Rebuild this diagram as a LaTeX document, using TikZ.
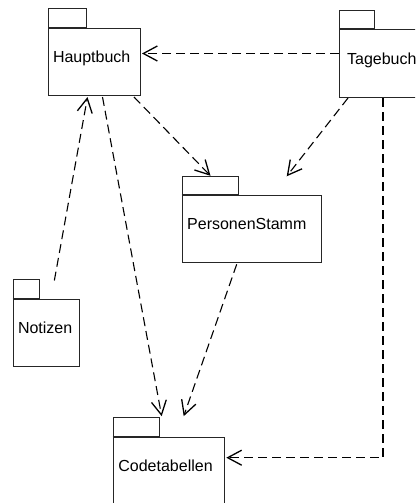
\documentclass[tikz,border=0pt]{standalone}
\usepackage{fontspec}
\setmainfont{Liberation Sans}
\usetikzlibrary{arrows.meta,calc}

% #1 name, (#2,#3) top-left corner of the body, #4 body width,
% #5 tab width, #6 text inset, #7 package name
\newcommand{\umlpkg}[7]{%
  \node[pkgbody, minimum width=#4pt] (#1) at (#2,#3) {};
  \node[pkgtab, minimum width=#5pt] (#1tab) at (#1.north west) {};
  \draw[tabline] (#1tab.south west) -- (#1tab.south east);
  \node[pkgname] (#1name) at ($(#1.north west)+(#6,34.5)$) {#7};
}

\begin{document}
\begin{tikzpicture}[x=1pt,y=-1pt,
  pkgbody/.style={draw=black!85, line width=1pt, inner sep=0pt,
    minimum height=67pt, anchor=north west},
  pkgtab/.style={draw=black!85, line width=1pt, inner sep=0pt,
    minimum height=18.5pt, anchor=south west},
  tabline/.style={draw=black!85, line width=2pt},
  pkgname/.style={anchor=base west, inner sep=0pt,
    font=\fontsize{16}{19}\selectfont},
  dep/.style={draw=black, line width=1.1pt, dash pattern=on 9pt off 5pt,
    -{Straight Barb[length=14pt,width=15pt,line width=1.3pt]}}]
\clip (0,0) rectangle (415,503);

% packages
\umlpkg{hb}{48}{28}{92}{37.5}{4.8}{Hauptbuch}
\umlpkg{tb}{339}{29.5}{100}{35}{7.9}{Tagebuch}
\umlpkg{ps}{181.7}{195.3}{139}{56.6}{5.3}{PersonenStamm}
\umlpkg{nt}{12.7}{298.5}{66.3}{26.6}{5.1}{Notizen}
\umlpkg{cd}{112.7}{436.7}{111.6}{46}{5.5}{Codetabellen}

% dependencies
\coordinate (hbin) at ($(hb.east)+(1,-8.5)$);
\draw[dep] (tb.west |- hbin) -- (hbin);
\draw[dep] ($(hb.south west)+(86,1)$) -- (pstab.north);
\draw[dep] ($(tb.south west)+(9,0.5)$) -- ($(ps.north)+(35,-19)$);
\draw[dep] ($(nt.north)+(8,-18)$) -- ($(hb.south)+(-7,1)$);
\draw[dep] ($(hb.south)+(8,1)$) -- ($(cdtab.north east)+(2,-1)$);
\draw[dep] ($(ps.south)+(-15,1)$) -- ($(cdtab.north east)+(24,-1)$);
\draw[dep] ($(tb.south west)+(44,0.5)$) |- ($(cd.east)+(1,-13)$);
\end{tikzpicture}
\end{document}
